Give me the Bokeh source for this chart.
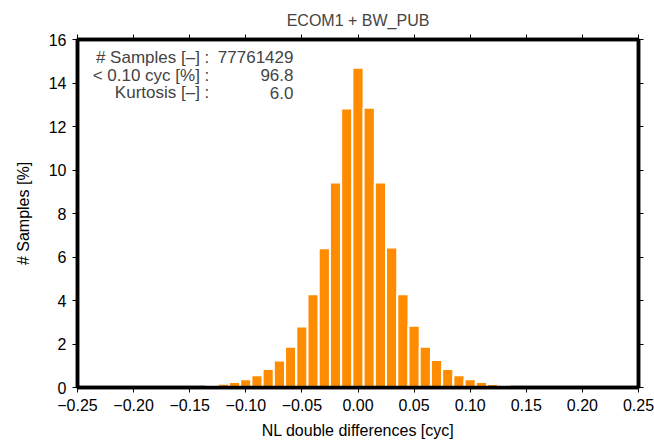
from bokeh.plotting import figure
from bokeh.models import (ColumnDataSource, FixedTicker, LinearAxis, Range1d, Label,
                          CustomJSTickFormatter)
from bokeh.embed import file_html
from bokeh.resources import INLINE

# data
bin_centers = [-0.13, -0.12, -0.11, -0.10, -0.09, -0.08, -0.07, -0.06, -0.05, -0.04,
               -0.03, -0.02, -0.01, 0.00, 0.01, 0.02, 0.03, 0.04, 0.05, 0.06,
               0.07, 0.08, 0.09, 0.10, 0.11, 0.12, 0.13]
samples_pct = [0.12, 0.17, 0.25, 0.38, 0.56, 0.85, 1.24, 1.87, 2.80, 4.29,
               6.40, 9.43, 12.83, 14.70, 12.86, 9.43, 6.44, 4.29, 2.84, 1.87,
               1.27, 0.85, 0.56, 0.38, 0.25, 0.16, 0.12]
x_ticks = [-0.25, -0.20, -0.15, -0.10, -0.05, 0.00, 0.05, 0.10, 0.15, 0.20, 0.25]
x_tick_labels = ["\u22120.25", "\u22120.20", "\u22120.15", "\u22120.10", "\u22120.05",
                 "0.00", "0.05", "0.10", "0.15", "0.20", "0.25"]
y_ticks = [0, 2, 4, 6, 8, 10, 12, 14, 16]
stat_names = ["# Samples [\u2013] :", "< 0.10 cyc [%] :", "Kurtosis [\u2013] :"]
stat_values = ["77761429", "96.8", "6.0"]

FONT = "Liberation Sans"
FS = "16px"

p = figure(width=654, height=444, output_backend="svg", toolbar_location=None,
           x_range=Range1d(-0.25, 0.25), y_range=Range1d(0, 16),
           min_border_left=77, min_border_right=16, min_border_top=39, min_border_bottom=57)

src = ColumnDataSource(dict(x=bin_centers, top=samples_pct))
p.vbar(x="x", top="top", width=0.01, bottom=0, source=src,
       fill_color="#FF8C00", line_color="white", line_width=2)

p.grid.visible = False
p.outline_line_color = "black"
p.outline_line_width = 3.5

p.title.text = "ECOM1 + BW_PUB"
p.title.align = "center"
p.title.text_font = FONT
p.title.text_font_size = FS
p.title.text_font_style = "normal"
p.title.offset = 0
p.title.standoff = 12

xt = FixedTicker(ticks=x_ticks)
yt = FixedTicker(ticks=y_ticks)

def style(ax):
    ax.axis_line_width = 3.5
    ax.axis_line_color = "black"
    ax.major_tick_in = 0
    ax.major_tick_out = 5
    ax.major_tick_line_width = 1
    ax.minor_tick_line_color = None
    ax.major_label_text_font = FONT
    ax.major_label_text_font_size = FS
    ax.major_label_text_color = "black"
    ax.axis_label_text_font = FONT
    ax.axis_label_text_font_size = FS
    ax.axis_label_text_font_style = "normal"
    ax.axis_label_text_color = "black"

xa = p.xaxis[0]
xa.ticker = xt
xa.major_label_overrides = {t: l for t, l in zip(x_ticks, x_tick_labels)}
xa.axis_label = "NL double differences [cyc]"
xa.major_label_standoff = 6
xa.axis_label_standoff = 8
style(xa)

ya = p.yaxis[0]
ya.ticker = yt
ya.axis_label = "# Samples [%]"
ya.major_label_standoff = 6
ya.axis_label_standoff = 14
style(ya)

blank = CustomJSTickFormatter(code="return '';")
top_ax = LinearAxis(ticker=FixedTicker(ticks=x_ticks), formatter=blank)
style(top_ax)
top_ax.major_label_standoff = 0
p.add_layout(top_ax, "above")
right_ax = LinearAxis(ticker=FixedTicker(ticks=y_ticks), formatter=blank)
style(right_ax)
right_ax.major_label_standoff = 0
p.add_layout(right_ax, "right")

ys = [15.18, 14.36, 13.55]
for name, val, yy in zip(stat_names, stat_values, ys):
    p.add_layout(Label(x=-0.1325, y=yy, text=name, text_align="right",
                       text_baseline="alphabetic", text_font=FONT, text_font_size="17px"))
    p.add_layout(Label(x=-0.0575, y=yy, text=val, text_align="right",
                       text_baseline="alphabetic", text_font=FONT, text_font_size="17px"))

open("out.html", "w").write(file_html(p, INLINE))
